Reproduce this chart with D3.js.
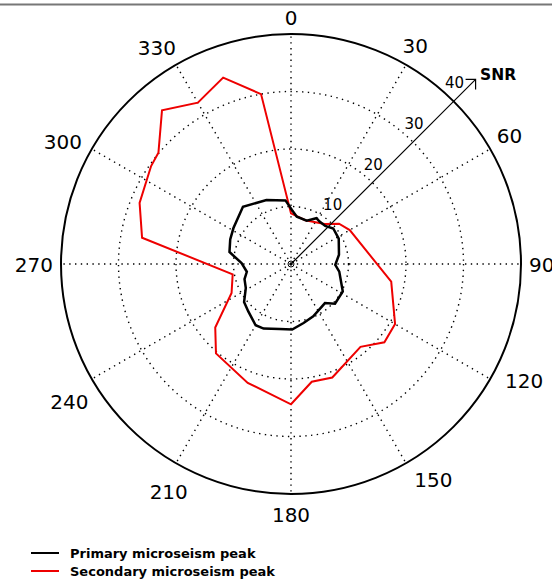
<!DOCTYPE html>
<html><head><meta charset="utf-8">
<script src="https://cdn.jsdelivr.net/npm/d3@7"></script>
<style>body{margin:0;background:#fff}svg{display:block}</style>
</head><body><svg id="c" width="552" height="581"></svg>
<script>
// Data (angle in degrees clockwise from north, SNR)
const primaryAngles = [1, 7, 20, 29, 34, 42, 50, 62, 79, 91, 99, 118, 132, 139, 157, 168, 179, 190, 203, 210, 222, 231, 242, 252, 260, 271, 281, 292, 302, 320, 339, 355];
const primarySNR    = [9.4, 8.3, 8.0, 9.1, 8.9, 8.9, 9.6, 9.4, 8.5, 7.7, 8.5, 10.2, 10.3, 9.0, 9.9, 10.5, 11.4, 11.5, 12.2, 12.3, 11.1, 10.5, 8.9, 8.5, 7.8, 8.6, 10.9, 11.4, 11.8, 13.0, 11.9, 11.1];
const secondaryAngles = [0, 18, 40, 50, 60, 100, 120, 130, 140, 160, 170, 180, 200, 220, 230, 244, 260, 280, 292, 305, 310, 320, 330, 340, 350];
const secondarySNR    = [8.8, 8.0, 9.1, 10.9, 11.8, 17.7, 20.9, 21.2, 18.8, 21.0, 20.8, 24.4, 22.0, 20.3, 17.2, 11.5, 10.3, 26.3, 28.4, 29.7, 30.1, 34.9, 32.4, 34.5, 30.0];
const angleTicks = [0, 30, 60, 90, 120, 150, 180, 210, 240, 270, 300, 330];
const radialTicks = [10, 20, 30, 40];
const seriesNames = ["Primary microseism peak", "Secondary microseism peak"];
const seriesColors = ["#000000", "#ee0000"];

const svg = d3.select("#c");
const cx = 291, cy = 264;
const r = d3.scaleLinear().domain([0, 40]).range([0, 230]);
const rad = d => d * Math.PI / 180;

// top border line
svg.append("line").attr("x1", 0).attr("x2", 552).attr("y1", 4.5).attr("y2", 4.5)
  .attr("stroke", "#777").attr("stroke-width", 2);

const g = svg.append("g").attr("transform", `translate(${cx},${cy})`);

// grid circles
g.selectAll("circle.grid").data(radialTicks.slice(0, -1)).join("circle")
  .attr("r", d => r(d)).attr("fill", "none").attr("stroke", "#000")
  .attr("stroke-width", 1.4).attr("stroke-dasharray", "1.4,4.4");
// spokes
g.selectAll("line.spoke").data(angleTicks).join("line")
  .attr("x1", 0).attr("y1", 0)
  .attr("x2", d => r(40) * Math.sin(rad(d))).attr("y2", d => -r(40) * Math.cos(rad(d)))
  .attr("stroke", "#000").attr("stroke-width", 1.4).attr("stroke-dasharray", "1.4,4.4");

// series
const line = d3.lineRadial().curve(d3.curveLinearClosed)
  .angle(d => rad(d[0])).radius(d => r(d[1]));
const primary = primaryAngles.map((a, i) => [a, primarySNR[i]]);
const secondary = secondaryAngles.map((a, i) => [a, secondarySNR[i]]);
g.append("path").attr("d", line(secondary)).attr("fill", "none")
  .attr("stroke", seriesColors[1]).attr("stroke-width", 2).attr("stroke-linejoin", "miter");
g.append("path").attr("d", line(primary)).attr("fill", "none")
  .attr("stroke", seriesColors[0]).attr("stroke-width", 2.5).attr("stroke-linejoin", "miter");

// outer circle
g.append("circle").attr("r", r(40)).attr("fill", "none").attr("stroke", "#000").attr("stroke-width", 2);

// angle labels: box edge kept at a fixed distance outside the circle
const nudge = a => (a % 90 === 0) ? 0 : (a < 90 ? -0.5 : (a < 180 ? -3.5 : -1.7));
g.selectAll("text.ang").data(angleTicks).join("text")
  .attr("text-anchor", "middle").attr("dominant-baseline", "central")
  .attr("font-family", "DejaVu Sans").attr("font-size", 20).text(d => d)
  .each(function(d) {
    const w = this.getBBox().width, h = 18;
    const s0 = Math.sin(rad(d)), c0 = Math.cos(rad(d));
    const rr = 238 + (w / 2) * Math.abs(s0) + (h / 2) * Math.abs(c0) + 3 * Math.max(0, -c0);
    const a = rad(d + nudge(d));
    d3.select(this).attr("x", rr * Math.sin(a)).attr("y", -rr * Math.cos(a) + 1);
  });

// SNR arrow
const arrowLen = r(45.4);
const s45 = Math.SQRT1_2;
const tipX = arrowLen * s45, tipY = -arrowLen * s45;
g.append("line").attr("x1", 0).attr("y1", 0).attr("x2", tipX).attr("y2", tipY)
  .attr("stroke", "#000").attr("stroke-width", 1.2);
g.append("path").attr("d", `M${tipX - 10},${tipY}L${tipX},${tipY}L${tipX},${tipY + 10}`)
  .attr("fill", "none").attr("stroke", "#000").attr("stroke-width", 1.2);
g.append("circle").attr("r", 3).attr("fill", "none").attr("stroke", "#000").attr("stroke-width", 1);
g.selectAll("text.rt").data(radialTicks).join("text")
  .attr("x", d => r(d) * s45 + 1).attr("y", d => -r(d) * s45 - 18)
  .attr("text-anchor", "middle").attr("dominant-baseline", "central")
  .attr("font-family", "DejaVu Sans").attr("font-size", 15).text(d => d);
svg.append("text").attr("x", 480).attr("y", 80).attr("font-family", "DejaVu Sans")
  .attr("font-weight", "bold").attr("font-size", 15.5).text("SNR");

// legend
const leg = svg.append("g");
seriesNames.forEach((n, i) => {
  const y = 553 + i * 18;
  leg.append("line").attr("x1", 31).attr("x2", 59).attr("y1", y).attr("y2", y)
    .attr("stroke", seriesColors[i]).attr("stroke-width", 2);
  leg.append("text").attr("x", 70).attr("y", y + 4.5).attr("font-family", "DejaVu Sans")
    .attr("font-weight", "bold").attr("font-size", 13).text(n);
});
</script></body></html>
